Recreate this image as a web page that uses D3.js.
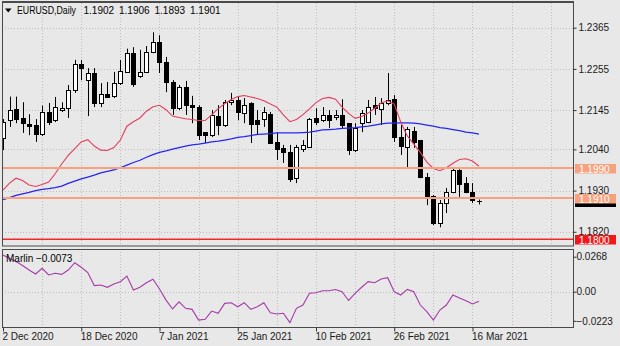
<!DOCTYPE html>
<html>
<head>
<meta charset="utf-8">
<script src="https://cdn.jsdelivr.net/npm/d3@7"></script>
<style>
  body { margin: 0; background: #e8e8e8; }
  svg { display: block; font-family: "Liberation Sans", Arial, sans-serif; font-size: 10px; }
</style>
</head>
<body>
<svg id="chart" width="620" height="346"></svg>
<script>
// ---- EURUSD daily bars ----
const dates = [
  "2020-12-02","2020-12-03","2020-12-04","2020-12-07","2020-12-08","2020-12-09","2020-12-10","2020-12-11",
  "2020-12-14","2020-12-15","2020-12-16","2020-12-17","2020-12-18","2020-12-21","2020-12-22","2020-12-23",
  "2020-12-24","2020-12-28","2020-12-29","2020-12-30","2020-12-31",
  "2021-01-04","2021-01-05","2021-01-06","2021-01-07","2021-01-08","2021-01-11","2021-01-12","2021-01-13",
  "2021-01-14","2021-01-15","2021-01-18","2021-01-19","2021-01-20","2021-01-21","2021-01-22","2021-01-25",
  "2021-01-26","2021-01-27","2021-01-28","2021-01-29",
  "2021-02-01","2021-02-02","2021-02-03","2021-02-04","2021-02-05","2021-02-08","2021-02-09","2021-02-10",
  "2021-02-11","2021-02-12","2021-02-15","2021-02-16","2021-02-17","2021-02-18","2021-02-19","2021-02-22",
  "2021-02-23","2021-02-24","2021-02-25","2021-02-26",
  "2021-03-01","2021-03-02","2021-03-03","2021-03-04","2021-03-05","2021-03-08","2021-03-09","2021-03-10",
  "2021-03-11","2021-03-12","2021-03-15","2021-03-16","2021-03-17"
];
const open = [
  1.2071,1.2118,1.2147,1.2124,1.2108,1.2105,1.2081,1.2140,1.2118,1.2145,
  1.2150,1.2199,1.2268,1.2225,1.2244,1.2164,1.2188,1.2183,1.2217,1.2247,
  1.2297,1.2236,1.2247,1.2300,1.2327,1.2273,1.2220,1.2150,1.2207,1.2158,
  1.2153,1.2086,1.2078,1.2129,1.2105,1.2166,1.2172,1.2137,1.2164,1.2118,
  1.2121,1.2134,1.2060,1.2044,1.2033,1.1963,1.2041,1.2046,1.2124,1.2118,
  1.2132,1.2126,1.2132,1.2110,1.2038,1.2110,1.2113,1.2158,1.2148,1.2164,
  1.2174,1.2073,1.2046,1.2089,1.2065,1.1966,1.1915,1.1843,1.1897,1.1926,
  1.1985,1.1950,1.1926,1.1902
];
const high = [
  1.2121,1.2181,1.2181,1.2166,1.2134,1.2121,1.2157,1.2164,1.2180,1.2166,
  1.2212,1.2279,1.2279,1.2257,1.2257,1.2217,1.2220,1.2247,1.2279,1.2309,
  1.2313,1.2306,1.2316,1.2353,1.2345,1.2287,1.2225,1.2212,1.2223,1.2183,
  1.2158,1.2086,1.2145,1.2158,1.2172,1.2191,1.2180,1.2177,1.2166,1.2145,
  1.2153,1.2140,1.2086,1.2052,1.2052,1.2052,1.2065,1.2124,1.2150,1.2153,
  1.2145,1.2145,1.2174,1.2110,1.2110,1.2145,1.2172,1.2180,1.2177,1.2244,
  1.2185,1.2105,1.2100,1.2100,1.2065,1.1977,1.1918,1.1905,1.1937,1.1990,
  1.1987,1.1966,1.1950,1.1906
];
const low = [
  1.2038,1.2100,1.2110,1.2084,1.2078,1.2060,1.2076,1.2105,1.2113,1.2140,
  1.2124,1.2191,1.2225,1.2129,1.2153,1.2153,1.2177,1.2177,1.2212,1.2244,
  1.2207,1.2231,1.2244,1.2297,1.2244,1.2193,1.2132,1.2145,1.2132,1.2110,
  1.2065,1.2057,1.2073,1.2078,1.2100,1.2158,1.2118,1.2110,1.2057,1.2078,
  1.2100,1.2055,1.2012,1.2004,1.1953,1.1950,1.2033,1.2044,1.2105,1.2113,
  1.2097,1.2118,1.2097,1.2025,1.2033,1.2086,1.2110,1.2132,1.2105,1.2158,
  1.2060,1.2025,1.1990,1.2044,1.1963,1.1891,1.1838,1.1832,1.1870,1.1923,
  1.1913,1.1923,1.1897,1.1893
];
const close = [
  1.2114,1.2145,1.2120,1.2110,1.2102,1.2081,1.2140,1.2113,1.2153,1.2151,
  1.2199,1.2268,1.2257,1.2245,1.2164,1.2188,1.2180,1.2217,1.2249,1.2297,
  1.2215,1.2247,1.2300,1.2327,1.2273,1.2220,1.2150,1.2207,1.2158,1.2153,
  1.2078,1.2078,1.2132,1.2105,1.2166,1.2172,1.2140,1.2158,1.2108,1.2108,
  1.2140,1.2057,1.2041,1.2033,1.1961,1.2046,1.2052,1.2121,1.2113,1.2132,
  1.2118,1.2132,1.2105,1.2038,1.2097,1.2137,1.2153,1.2150,1.2164,1.2172,
  1.2073,1.2049,1.2094,1.2060,1.1966,1.1913,1.1843,1.1897,1.1926,1.1985,
  1.1947,1.1926,1.1905,1.1901
];

// Moving averages (short, red; long, blue)
const maShort = [
  1.1931,1.1950,1.1963,1.1957,1.1945,1.1941,1.1946,1.1953,1.1975,1.2001,
  1.2024,1.2042,1.2060,1.2066,1.2049,1.2038,1.2037,1.2045,1.2065,1.2102,
  1.2114,1.2124,1.2142,1.2154,1.2158,1.2146,1.2129,1.2125,1.2122,1.2120,
  1.2117,1.2117,1.2132,1.2149,1.2162,1.2173,1.2181,1.2184,1.2180,1.2176,
  1.2170,1.2161,1.2153,1.2132,1.2114,1.2120,1.2133,1.2148,1.2165,1.2176,
  1.2179,1.2174,1.2153,1.2136,1.2123,1.2128,1.2137,1.2150,1.2164,1.2170,
  1.2161,1.2113,1.2076,1.2054,1.2032,1.2006,1.1989,1.1983,1.1991,1.2003,
  1.2013,1.2015,1.2009,1.1995
];
const maLong = [
  1.1906,1.1911,1.1917,1.1921,1.1925,1.1930,1.1933,1.1935,1.1938,1.1942,
  1.1949,1.1955,1.1961,1.1966,1.1971,1.1977,1.1981,1.1985,1.1991,1.1998,
  1.2005,1.2011,1.2019,1.2026,1.2032,1.2036,1.2041,1.2045,1.2049,1.2052,
  1.2054,1.2057,1.2060,1.2062,1.2065,1.2068,1.2072,1.2074,1.2077,1.2080,
  1.2081,1.2082,1.2084,1.2084,1.2084,1.2084,1.2085,1.2086,1.2089,1.2092,
  1.2093,1.2094,1.2096,1.2097,1.2098,1.2100,1.2102,1.2105,1.2108,1.2110,
  1.2110,1.2111,1.2111,1.2110,1.2108,1.2105,1.2102,1.2098,1.2096,1.2093,
  1.2090,1.2086,1.2084,1.2081
];

// Marlin oscillator
const marlin = [
  0.0281,0.0254,0.0231,0.0201,0.0166,0.0136,0.0179,0.0128,0.0141,0.0133,
  0.0166,0.0222,0.0187,0.0147,0.0047,0.0051,0.0034,0.0059,0.0077,0.0120,
  0.0013,0.0034,0.0069,0.0095,0.0021,-0.0064,-0.0132,-0.0077,-0.0127,-0.0135,
  -0.0217,-0.0211,-0.0148,-0.0165,-0.0089,-0.0084,-0.0115,-0.0084,-0.0135,-0.0115,
  -0.0084,-0.0161,-0.0171,-0.0165,-0.0237,-0.0127,-0.0102,-0.0012,-0.0008,0.0008,
  0.0008,0.0017,0.0000,-0.0067,-0.0012,0.0034,0.0077,0.0069,0.0097,0.0107,
  0.0000,-0.0025,0.0018,0.0000,-0.0102,-0.0153,-0.0217,-0.0140,-0.0102,-0.0025,
  -0.0048,-0.0069,-0.0094,-0.0073
];

// Axis ticks and horizontal levels
const priceTicks = [1.2365, 1.2255, 1.2145, 1.2040, 1.1930, 1.1820];
const marlinTicks = [0.0268, 0, -0.0223];
const supportLevels = [1.1990, 1.1910];
const keyLevel = [1.1800];
const symbolName = "EURUSD,Daily";
const lastQuote = [1.1902, 1.1906, 1.1893, 1.1901];
const indicatorName = "Marlin";

// ---- layout ----
const W = 620, H = 346;
const main = { left: 2, right: 574, top: 3, bottom: 246 };
const sub = { top: 249, bottom: 327 };
const fmt4 = d3.format(".4f");

const svg = d3.select("#chart");
svg.append("rect").attr("width", W).attr("height", H).attr("fill", "#e8e8e8");

const x = d3.scalePoint().domain(dates).range([3, 479]);
const step = x.step();
const y = d3.scaleLinear().domain([1.2431, 1.1782]).range([main.top, main.bottom]);
const yi = d3.scaleLinear().domain([0.0327, -0.0270]).range([sub.top, sub.bottom]);

const crisp = v => Math.round(v) + 0.5;

// clip paths
const defs = svg.append("defs");
defs.append("clipPath").attr("id", "clipMain").append("rect")
  .attr("x", main.left).attr("y", main.top)
  .attr("width", main.right - main.left).attr("height", main.bottom - main.top);
defs.append("clipPath").attr("id", "clipSub").append("rect")
  .attr("x", main.left).attr("y", sub.top)
  .attr("width", main.right - main.left).attr("height", sub.bottom - sub.top);

// ---- grid ----
const gridX = [];
for (let k = 6; x(dates[0]) + k * step < main.right; k += 6) gridX.push(x(dates[0]) + k * step);

const grid = svg.append("g").attr("stroke", "#bdbdbd").attr("stroke-dasharray", "1,2").attr("stroke-width", 1);
gridX.forEach(gx => {
  grid.append("line").attr("x1", crisp(gx)).attr("x2", crisp(gx)).attr("y1", main.top).attr("y2", main.bottom);
  grid.append("line").attr("x1", crisp(gx)).attr("x2", crisp(gx)).attr("y1", sub.top).attr("y2", sub.bottom);
});
priceTicks.forEach(p => {
  grid.append("line").attr("x1", main.left).attr("x2", main.right)
    .attr("y1", crisp(y(p))).attr("y2", crisp(y(p)));
});
grid.append("line").attr("x1", main.left).attr("x2", main.right)
  .attr("y1", crisp(yi(0))).attr("y2", crisp(yi(0)));

// ---- candles ----
const bars = dates.map((d, i) => ({ d, o: open[i], h: high[i], l: low[i], c: close[i] }));
const gC = svg.append("g").attr("clip-path", "url(#clipMain)");
bars.forEach(b => {
  const cx = crisp(x(b.d));
  gC.append("line").attr("x1", cx).attr("x2", cx)
    .attr("y1", y(b.h)).attr("y2", y(b.l)).attr("stroke", "#000").attr("stroke-width", 1);
  const top = y(Math.max(b.o, b.c)), bot = y(Math.min(b.o, b.c));
  if (bot - top < 1.2) {
    gC.append("line").attr("x1", cx - 2.5).attr("x2", cx + 2.5)
      .attr("y1", crisp(top)).attr("y2", crisp(top)).attr("stroke", "#000");
  } else {
    gC.append("rect").attr("x", cx - 2).attr("y", Math.round(top) + 0.5)
      .attr("width", 4).attr("height", Math.max(1, Math.round(bot) - Math.round(top)))
      .attr("fill", b.c >= b.o ? "#fff" : "#000").attr("stroke", "#000").attr("stroke-width", 1);
  }
});

// ---- moving averages ----
const line = d3.line().x((v, i) => x(dates[i])).y(v => y(v)).curve(d3.curveLinear);
gC.append("path").datum(maLong).attr("d", line).attr("fill", "none")
  .attr("stroke", "#2626f2").attr("stroke-width", 1.3);
gC.append("path").datum(maShort).attr("d", line).attr("fill", "none")
  .attr("stroke", "#e63c5c").attr("stroke-width", 1.1);

// ---- horizontal levels ----
supportLevels.forEach(p => {
  gC.append("line").attr("x1", main.left).attr("x2", main.right)
    .attr("y1", y(p)).attr("y2", y(p)).attr("stroke", "#f7a27e").attr("stroke-width", 2);
});
keyLevel.forEach(p => {
  gC.append("line").attr("x1", main.left).attr("x2", main.right)
    .attr("y1", y(p)).attr("y2", y(p)).attr("stroke", "#f02a2a").attr("stroke-width", 1.5);
});

// ---- Marlin oscillator ----
const lineI = d3.line().x((v, i) => x(dates[i])).y(v => yi(v));
svg.append("g").attr("clip-path", "url(#clipSub)").append("path").datum(marlin).attr("d", lineI)
  .attr("fill", "none").attr("stroke", "#a53aa8").attr("stroke-width", 1.1);

// ---- frames ----
svg.append("rect").attr("x", main.left + 0.5).attr("y", main.top - 0.5)
  .attr("width", main.right - main.left - 1).attr("height", main.bottom - main.top + 0.5)
  .attr("fill", "none").attr("stroke", "#4a4a4a").attr("stroke-width", 1);
svg.append("line").attr("x1", main.left).attr("x2", main.right).attr("y1", 2).attr("y2", 2)
  .attr("stroke", "#4a4a4a").attr("stroke-width", 2);
svg.append("rect").attr("x", main.left + 0.5).attr("y", sub.top + 0.5)
  .attr("width", main.right - main.left - 1).attr("height", sub.bottom - sub.top)
  .attr("fill", "none").attr("stroke", "#4a4a4a").attr("stroke-width", 1);

// ---- axes ----
const styleAxis = g => {
  g.select(".domain").remove();
  g.selectAll(".tick line").attr("stroke", "#333");
  g.selectAll(".tick text").attr("fill", "#1a1a1a").style("font-size", "10px")
    .style("font-family", '"Liberation Sans", Arial, sans-serif');
};

svg.append("g").attr("transform", `translate(${main.right - 0.5},0)`)
  .call(d3.axisRight(y).tickValues(priceTicks).tickSize(3).tickPadding(2).tickFormat(fmt4))
  .call(styleAxis);

svg.append("g").attr("transform", `translate(${main.right - 0.5},0)`)
  .call(d3.axisRight(yi).tickValues(marlinTicks).tickSize(3).tickPadding(0)
    .tickFormat(v => v === 0 ? "0.00" : fmt4(v)))
  .call(styleAxis);

const dateFmt = d3.timeFormat("%-d %b %Y");
svg.append("g").attr("transform", `translate(0,${sub.bottom + 0.5})`)
  .call(d3.axisBottom(x).tickValues(dates.filter((d, i) => i % 12 === 0)).tickSize(4).tickPadding(2)
    .tickFormat(d => dateFmt(d3.timeParse("%Y-%m-%d")(d))))
  .call(styleAxis)
  .call(g => g.selectAll(".tick text").attr("text-anchor", "start").attr("dx", -1).attr("y", 5));

// ---- price tags on the right scale ----
const tagW = 41, tagH = 10;
const tagTop = p => Math.round(y(p)) - 4;
// current bid marker, mostly covered by the nearby level tag
svg.append("rect").attr("x", main.right + 1).attr("y", tagTop(lastQuote[3]))
  .attr("width", tagW).attr("height", tagH).attr("fill", "#000");
const tag = (p, fill, txt) => {
  const g = svg.append("g");
  g.append("rect").attr("x", main.right + 1).attr("y", tagTop(p))
    .attr("width", tagW).attr("height", tagH - 0.5).attr("fill", fill);
  g.append("text").attr("x", main.right + 5).attr("y", tagTop(p) + 8.5)
    .attr("fill", txt).text(fmt4(p));
};
supportLevels.forEach(p => tag(p, "#f7a27e", "#fff"));
keyLevel.forEach(p => tag(p, "#f01818", "#fff"));

// ---- captions ----
svg.append("path").attr("d", "M5,8.5 L11.5,8.5 L8.25,12.5 Z").attr("fill", "#000");
svg.append("text").attr("x", 17).attr("y", 14).attr("fill", "#000")
  .attr("textLength", 59).attr("lengthAdjust", "spacingAndGlyphs").text(symbolName);
lastQuote.forEach((q, i) => {
  svg.append("text").attr("x", 83.5 + i * 35.5).attr("y", 14).attr("fill", "#000").text(fmt4(q));
});
svg.append("text").attr("x", 6).attr("y", 262).attr("fill", "#000")
  .text(`${indicatorName} ${fmt4(marlin[marlin.length - 1])}`);
</script>
</body>
</html>
